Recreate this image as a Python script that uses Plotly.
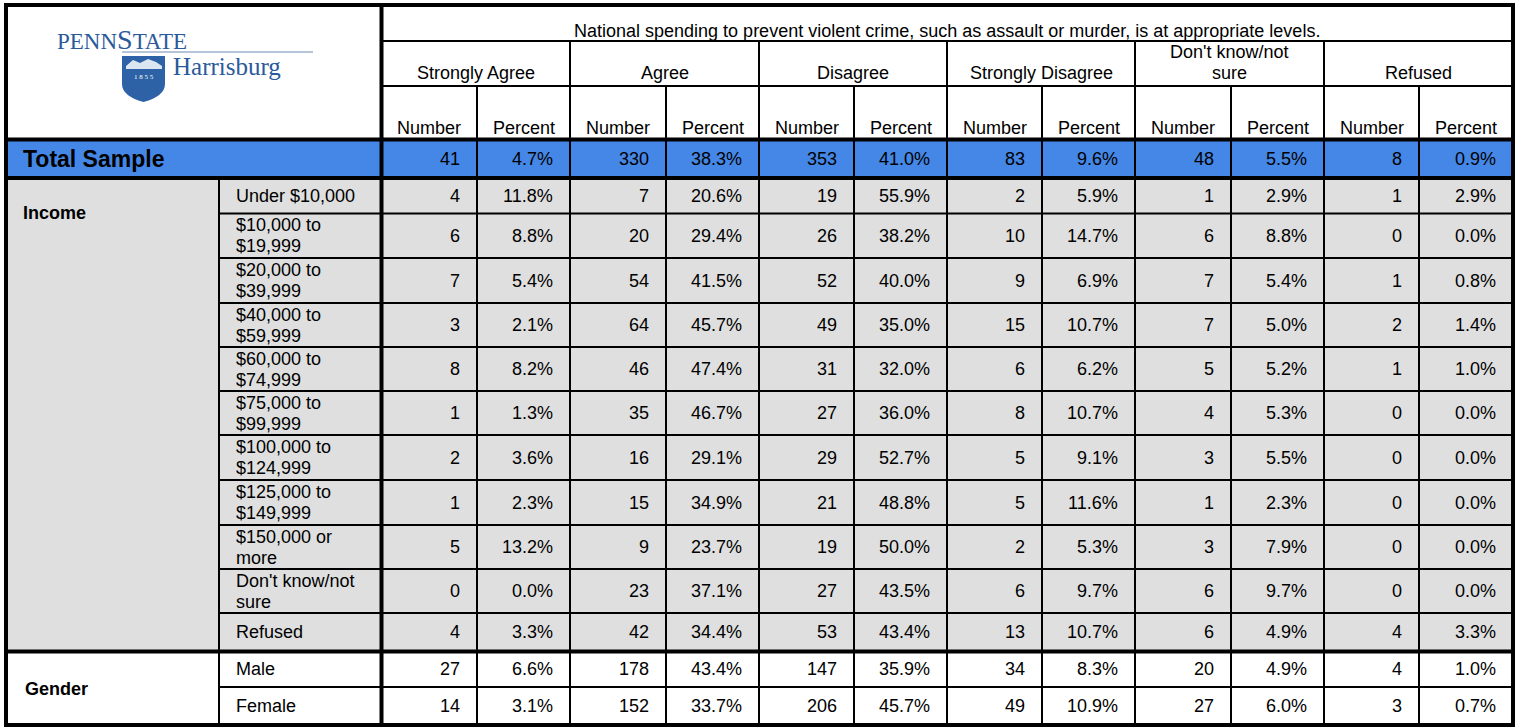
import plotly.graph_objects as go

# ---------------- data ----------------
question = "National spending to prevent violent crime, such as assault or murder, is at appropriate levels."
response_groups = ["Strongly Agree", "Agree", "Disagree", "Strongly Disagree",
                   "Don't know/not<br>sure", "Refused"]
sub_headers = ["Number", "Percent"]

total_label = "Total Sample"
total_numbers = [41, 330, 353, 83, 48, 8]
total_percents = [4.7, 38.3, 41.0, 9.6, 5.5, 0.9]

income_title = "Income"
income_labels = ["Under $10,000", "$10,000 to<br>$19,999", "$20,000 to<br>$39,999",
                 "$40,000 to<br>$59,999", "$60,000 to<br>$74,999", "$75,000 to<br>$99,999",
                 "$100,000 to<br>$124,999", "$125,000 to<br>$149,999", "$150,000 or<br>more",
                 "Don't know/not<br>sure", "Refused"]
income_numbers = [
    [4, 7, 19, 2, 1, 1],
    [6, 20, 26, 10, 6, 0],
    [7, 54, 52, 9, 7, 1],
    [3, 64, 49, 15, 7, 2],
    [8, 46, 31, 6, 5, 1],
    [1, 35, 27, 8, 4, 0],
    [2, 16, 29, 5, 3, 0],
    [1, 15, 21, 5, 1, 0],
    [5, 9, 19, 2, 3, 0],
    [0, 23, 27, 6, 6, 0],
    [4, 42, 53, 13, 6, 4],
]
income_percents = [
    [11.8, 20.6, 55.9, 5.9, 2.9, 2.9],
    [8.8, 29.4, 38.2, 14.7, 8.8, 0.0],
    [5.4, 41.5, 40.0, 6.9, 5.4, 0.8],
    [2.1, 45.7, 35.0, 10.7, 5.0, 1.4],
    [8.2, 47.4, 32.0, 6.2, 5.2, 1.0],
    [1.3, 46.7, 36.0, 10.7, 5.3, 0.0],
    [3.6, 29.1, 52.7, 9.1, 5.5, 0.0],
    [2.3, 34.9, 48.8, 11.6, 2.3, 0.0],
    [13.2, 23.7, 50.0, 5.3, 7.9, 0.0],
    [0.0, 37.1, 43.5, 9.7, 9.7, 0.0],
    [3.3, 34.4, 43.4, 10.7, 4.9, 3.3],
]

gender_title = "Gender"
gender_labels = ["Male", "Female"]
gender_numbers = [[27, 178, 147, 34, 20, 4],
                  [14, 152, 206, 49, 27, 3]]
gender_percents = [[6.6, 43.4, 35.9, 8.3, 4.9, 1.0],
                   [3.1, 33.7, 45.7, 10.9, 6.0, 0.7]]

# ---------------- geometry / style ----------------
W, H = 1520, 728
X_LEFT, X_SUB, X_DATA = 6, 219, 381.5
data_edges = [381.5, 477, 570, 666, 759, 854, 947, 1042, 1135, 1231, 1324, 1419, 1513]
X_RIGHT = data_edges[-1]
Y_TOP, Y_Q, Y_GRP, Y_HDR = 5, 41, 86, 139.5
Y_TOT = 178
income_edges = [178, 213.5, 258, 303, 347, 391, 435, 480, 525, 569, 613, 651.5]
gender_edges = [651.5, 687, 725]
Y_BOTTOM = 725

FONT = "Liberation Sans, Arial, sans-serif"
SERIF = "Liberation Serif, Times New Roman, serif"
BLUE = "#4587E6"
GRAY = "#DFDFDF"
THICK, THIN = 4, 2
FS = 18
PAD_R = 15
LINE_H = 21
LOGO_C = "#2A5A9B"

fig = go.Figure()
fig.add_trace(go.Scatter(x=[0, W], y=[0, H], mode="markers",
                         marker=dict(opacity=0), hoverinfo="skip", showlegend=False))

shapes = []
annotations = []


def rect(x0, y0, x1, y1, color):
    shapes.append(dict(type="rect", xref="x", yref="y", x0=x0, y0=y0, x1=x1, y1=y1,
                       fillcolor=color, line=dict(width=0), layer="below"))


def hline(y, x0, x1, w):
    shapes.append(dict(type="line", xref="x", yref="y", x0=x0, x1=x1, y0=y, y1=y,
                       line=dict(color="black", width=w), layer="above"))


def vline(x, y0, y1, w):
    shapes.append(dict(type="line", xref="x", yref="y", x0=x, x1=x, y0=y0, y1=y1,
                       line=dict(color="black", width=w), layer="above"))


def text(x, y, s, anchor="left", size=FS, bold=False, color="black", family=FONT):
    if bold:
        s = "<b>" + s + "</b>"
    annotations.append(dict(x=x, y=y, xref="x", yref="y", text=s, showarrow=False,
                            xanchor=anchor, yanchor="middle",
                            font=dict(family=family, size=size, color=color)))


def multiline(x, yc, s, anchor="left", size=FS):
    parts = s.split("<br>")
    n = len(parts)
    for i, p in enumerate(parts):
        text(x, yc + (i - (n - 1) / 2) * LINE_H, p, anchor=anchor, size=size)


# ---------------- fills ----------------
rect(X_LEFT, Y_TOP, X_RIGHT, Y_HDR, "white")
rect(X_LEFT, Y_HDR, X_RIGHT, Y_TOT, BLUE)
rect(X_LEFT, Y_TOT, X_RIGHT, income_edges[-1], GRAY)
rect(X_LEFT, gender_edges[0], X_RIGHT, Y_BOTTOM, "white")

# ---------------- header ----------------
text((X_DATA + X_RIGHT) / 2, 30.5, question, anchor="center")
for g, name in enumerate(response_groups):
    xc = (data_edges[2 * g] + data_edges[2 * g + 2]) / 2
    parts = name.split("<br>")
    n = len(parts)
    for i, p in enumerate(parts):
        text(xc, 73 - (n - 1 - i) * LINE_H, p, anchor="center")
    for k, sh in enumerate(sub_headers):
        c = 2 * g + k
        text((data_edges[c] + data_edges[c + 1]) / 2, 127.5, sh, anchor="center")


def row_values(yc, nums, pcts):
    for g in range(len(nums)):
        text(data_edges[2 * g + 1] - PAD_R, yc, f"{nums[g]}", anchor="right")
        text(data_edges[2 * g + 2] - PAD_R, yc, f"{pcts[g]:.1f}%", anchor="right")


# total sample
yc_tot = (Y_HDR + Y_TOT) / 2 + 0.5
text(21, yc_tot, total_label, bold=True, size=23)
row_values(yc_tot, total_numbers, total_percents)

# income
text(21, 213, income_title, bold=True)
for r, lab in enumerate(income_labels):
    yc = (income_edges[r] + income_edges[r + 1]) / 2
    multiline(234, yc, lab)
    row_values(yc, income_numbers[r], income_percents[r])

# gender
text(23, (gender_edges[0] + gender_edges[-1]) / 2 + 1, gender_title, bold=True)
for r, lab in enumerate(gender_labels):
    yc = (gender_edges[r] + gender_edges[r + 1]) / 2
    multiline(234, yc, lab)
    row_values(yc, gender_numbers[r], gender_percents[r])

# ---------------- grid lines ----------------
hline(Y_Q, X_DATA, X_RIGHT, THIN)
hline(Y_GRP, X_DATA, X_RIGHT, THIN)
for y in income_edges[1:-1]:
    hline(y, X_SUB, X_RIGHT, THIN)
for y in gender_edges[1:-1]:
    hline(y, X_SUB, X_RIGHT, THIN)
vline(X_SUB, Y_TOT, Y_BOTTOM, THIN)
for c, x in enumerate(data_edges[1:-1], start=1):
    vline(x, Y_Q if c % 2 == 0 else Y_GRP, Y_BOTTOM, THIN)
hline(Y_HDR, X_LEFT, X_RIGHT, THICK)
hline(Y_TOT, X_LEFT, X_RIGHT, THICK)
hline(income_edges[-1], X_LEFT, X_RIGHT, THICK)
vline(X_DATA, Y_TOP, Y_BOTTOM, THICK)
# outer border
hline(Y_TOP, X_LEFT - 2, X_RIGHT + 2, THICK)
hline(Y_BOTTOM, X_LEFT - 2, X_RIGHT + 2, THICK)
vline(X_LEFT, Y_TOP, Y_BOTTOM, THICK)
vline(X_RIGHT, Y_TOP, Y_BOTTOM, THICK)

# ---------------- logo ----------------
text(121.5, 39.5, "PENN<span style='font-size:28px'>S</span>TATE", anchor="center",
     size=23, color=LOGO_C, family=SERIF)
shapes.append(dict(type="line", xref="x", yref="y", x0=122, x1=313, y0=52, y1=52,
                   line=dict(color="#9DB0CC", width=1.5)))
shapes.append(dict(type="path", xref="x", yref="y",
                   path="M 122 56 L 165 56 L 165 84 Q 165 96 143.5 102 Q 122 96 122 84 Z",
                   fillcolor="#2E62A6", line=dict(width=0)))
shapes.append(dict(type="path", xref="x", yref="y",
                   path="M 126 66 L 133 60 L 140 63 L 148 59 L 156 62 L 162 66 L 162 69 L 126 69 Z",
                   fillcolor="#DCE6F2", line=dict(width=0)))
text(143.5, 77, "1 8 5 5", anchor="center", size=7, color="white", family=SERIF)
text(171, 66, "Harrisburg", anchor="left", size=25, color=LOGO_C, family=SERIF)

fig.update_layout(
    width=W, height=H,
    margin=dict(l=0, r=0, t=0, b=0),
    paper_bgcolor="white", plot_bgcolor="white",
    xaxis=dict(range=[0, W], visible=False, fixedrange=True),
    yaxis=dict(range=[H, 0], visible=False, fixedrange=True),
    shapes=shapes, annotations=annotations,
    showlegend=False,
)

fig.write_html("out.html", config={"displayModeBar": False},
               post_script="document.body.style.margin='0';document.body.style.overflow='hidden';")
